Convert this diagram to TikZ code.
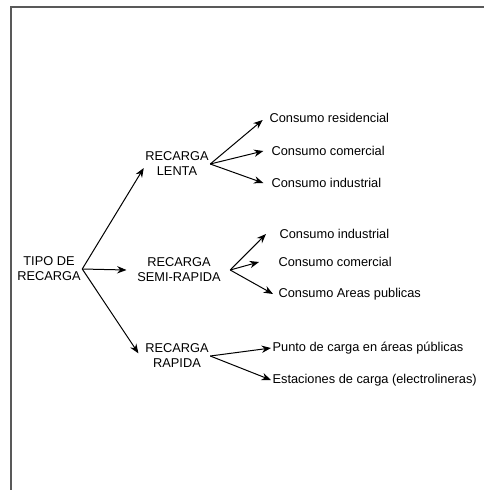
\documentclass[tikz,border=0pt]{standalone}
\usepackage{fontspec}
\setmainfont{Liberation Sans}
\usetikzlibrary{positioning,arrows.meta}

\begin{document}
\begin{tikzpicture}[x=0.75pt, y=-0.75pt, >={Stealth[length=7pt,width=5.5pt]},
  txt/.style={align=center, inner sep=1pt, font=\fontsize{9.6}{11.25}\selectfont},
  leaf/.style={txt, anchor=west},
  link/.style={->, line width=0.75pt}]
  \useasboundingbox (0,0) rectangle (484,490);
  % Frame
  \draw[line width=1.1pt, black!65] (11,490) -- (11,7) -- (484,7);

  % Nodes
  \node[txt] (tipo) at (49,269) {TIPO DE\\RECARGA};
  \node[txt] (lenta) at (177,164) {RECARGA\\LENTA};
  \node[txt] (semi) at (179,270) {RECARGA\\SEMI-RAPIDA};
  \node[txt] (rapida) at (177,356) {RECARGA\\RAPIDA};

  \node[leaf] (res) at (268,118) {Consumo residencial};
  \node[leaf] (com) at (270,151) {Consumo comercial};
  \node[leaf] (ind) at (270,183) {Consumo industrial};
  \node[leaf] (indsemi) at (278,234) {Consumo industrial};
  \node[leaf] (comsemi) at (277,262) {Consumo comercial};
  \node[leaf] (areas) at (277,294) {Consumo Areas publicas};
  \node[leaf] (punto) at (271,348) {Punto de carga en áreas públicas};
  \node[leaf] (estac) at (271,380) {Estaciones de carga (electrolineras)};

  % Arrows
  \draw[link] (tipo.east) -- ([yshift=-3pt]lenta.west);
  \draw[link] (tipo.east) -- ([xshift=-7pt]semi.west);
  \draw[link] (tipo.east) -- ([xshift=-4pt,yshift=2pt]rapida.west);

  \draw[link] (lenta.east) -- ([xshift=-4pt,yshift=-1.5pt]res.west);
  \draw[link] (lenta.east) -- ([xshift=-5pt]com.west);
  \draw[link] (lenta.east) -- ([xshift=-5pt]ind.west);

  \draw[link] ([xshift=6pt]semi.east) -- ([xshift=-9pt]indsemi.west);
  \draw[link] ([xshift=6pt]semi.east) -- ([xshift=-13.5pt]comsemi.west);
  \draw[link] ([xshift=6pt]semi.east) -- ([xshift=-3pt]areas.west);

  \draw[link] (rapida.east) -- (punto.west);
  \draw[link] (rapida.east) -- (estac.west);
\end{tikzpicture}
\end{document}
